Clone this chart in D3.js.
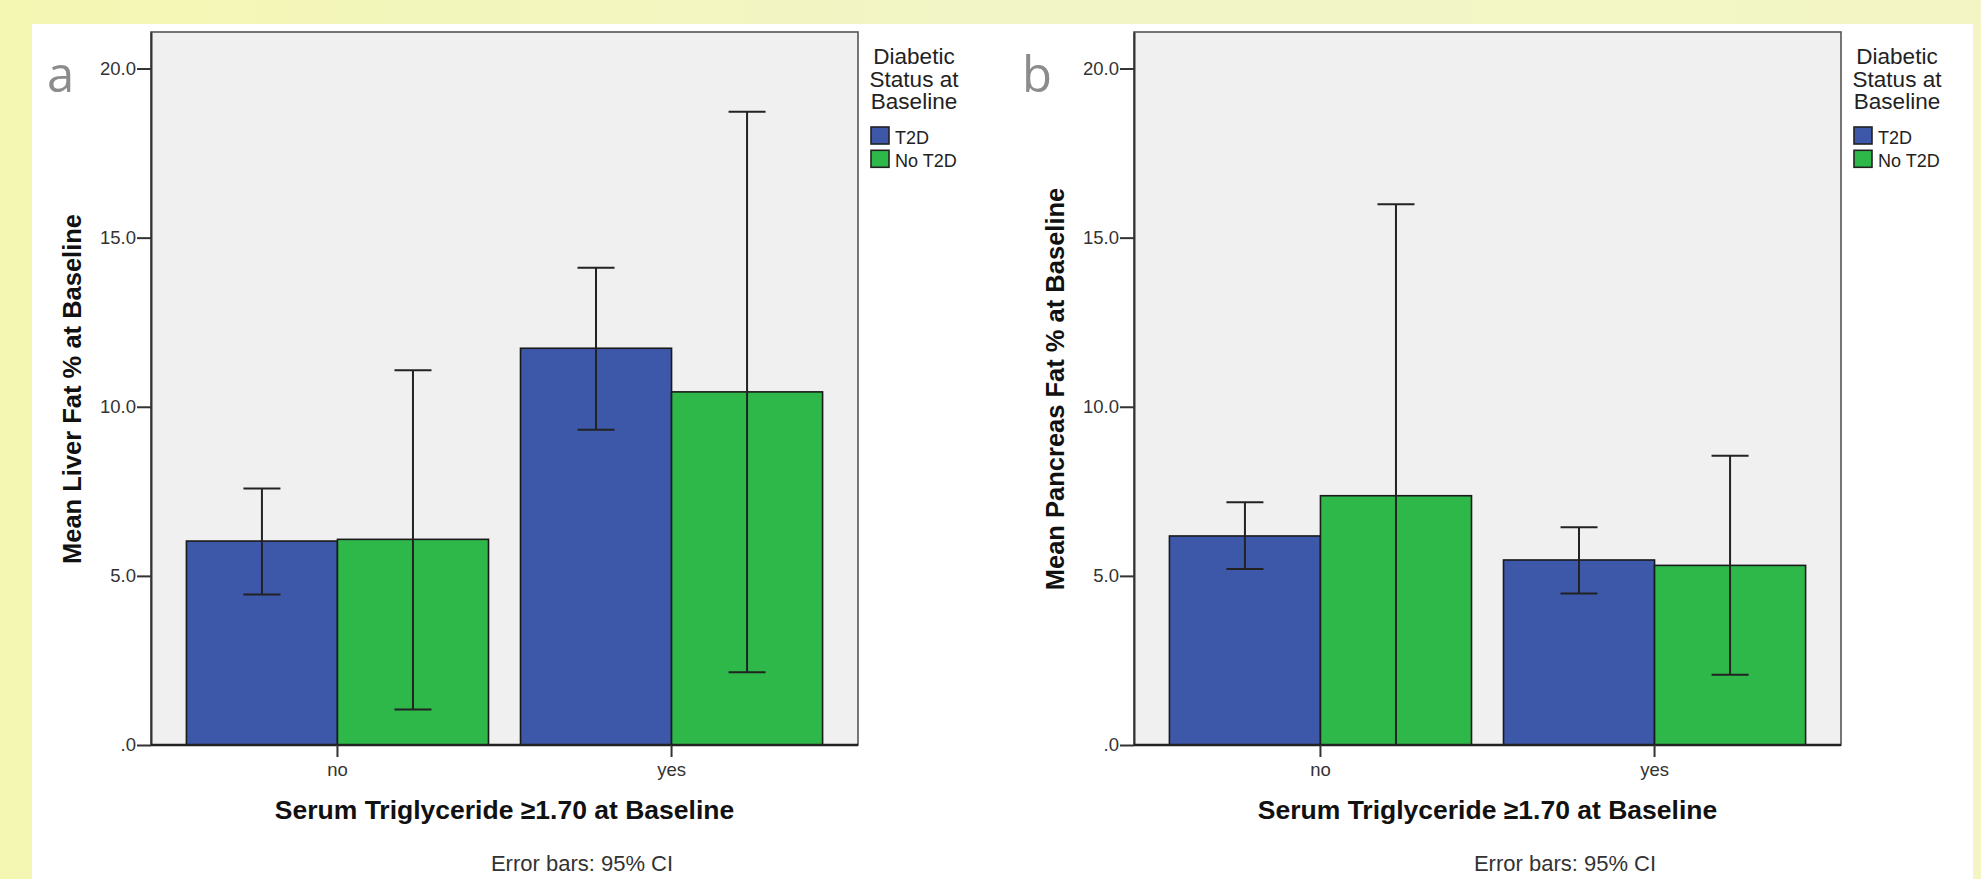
<!DOCTYPE html>
<html>
<head>
<meta charset="utf-8">
<script src="https://cdn.jsdelivr.net/npm/d3@7"></script>
<style>
  html, body { margin: 0; padding: 0; }
  body { width: 1981px; height: 879px; overflow: hidden; }
  svg text { font-family: "Liberation Sans", Arial, sans-serif; }
</style>
</head>
<body>
<svg id="chart" width="1981" height="879"></svg>
<script>
// ---------- DATA ----------
const categories = ["no", "yes"];
const groups = ["T2D", "No T2D"];
const groupColors = ["#3d57a9", "#2fb84a"];
const yTicks = [0, 5, 10, 15, 20];

// Panel a: Mean Liver Fat % at Baseline
const liverT2D      = [6.03, 11.73];
const liverT2DLow   = [4.45, 9.32];
const liverT2DHigh  = [7.58, 14.11];
const liverNoT2D     = [6.08, 10.44];
const liverNoT2DLow  = [1.05, 2.15];
const liverNoT2DHigh = [11.08, 18.72];

// Panel b: Mean Pancreas Fat % at Baseline
const pancT2D      = [6.18, 5.47];
const pancT2DLow   = [5.20, 4.48];
const pancT2DHigh  = [7.18, 6.44];
const pancNoT2D     = [7.37, 5.31];
const pancNoT2DLow  = [0.00, 2.08];
const pancNoT2DHigh = [15.99, 8.55];

const panels = [
  { letter: "a", yTitle: "Mean Liver Fat % at Baseline", dx: 0,
    series: [
      { mean: liverT2D, low: liverT2DLow, high: liverT2DHigh },
      { mean: liverNoT2D, low: liverNoT2DLow, high: liverNoT2DHigh } ] },
  { letter: "b", yTitle: "Mean Pancreas Fat % at Baseline", dx: 983,
    series: [
      { mean: pancT2D, low: pancT2DLow, high: pancT2DHigh },
      { mean: pancNoT2D, low: pancNoT2DLow, high: pancNoT2DHigh } ] }
];

// ---------- DRAW ----------
const svg = d3.select("#chart");

// background
const defs = svg.append("defs");
const grad = defs.append("linearGradient").attr("id", "bg").attr("x1", 0).attr("y1", 0).attr("x2", 1).attr("y2", 0);
grad.append("stop").attr("offset", "0%").attr("stop-color", "#f4f7b2");
grad.append("stop").attr("offset", "50%").attr("stop-color", "#f2f5c6");
grad.append("stop").attr("offset", "100%").attr("stop-color", "#f3f6c4");
svg.append("rect").attr("width", 1981).attr("height", 879).attr("fill", "url(#bg)");
svg.append("rect").attr("x", 32).attr("y", 24).attr("width", 1941).attr("height", 855).attr("fill", "#ffffff");

const plotLeft = 151, plotRight = 858, plotTop = 32, plotBottom = 745;
const y = d3.scaleLinear().domain([0, 21.08]).range([plotBottom, plotTop]);
const fmt = d => d === 0 ? ".0" : d3.format(".1f")(d);

panels.forEach(p => {
  const g = svg.append("g").attr("transform", `translate(${p.dx},0)`);

  const x0 = d3.scaleBand().domain(categories).range([plotLeft, plotRight])
    .paddingInner(0.0958).paddingOuter(0.106);
  const x1 = d3.scaleBand().domain(groups).range([0, x0.bandwidth()]).padding(0);

  // plot background & frame
  g.append("rect").attr("x", plotLeft).attr("y", plotTop)
    .attr("width", plotRight - plotLeft).attr("height", plotBottom - plotTop)
    .attr("fill", "#f0f0f0").attr("stroke", "#555").attr("stroke-width", 1.6);

  // bars
  p.series.forEach((s, si) => {
    g.append("g").selectAll("rect").data(categories).join("rect")
      .attr("x", (c) => x0(c) + x1(groups[si]))
      .attr("y", (c, i) => y(s.mean[i]))
      .attr("width", x1.bandwidth())
      .attr("height", (c, i) => y(0) - y(s.mean[i]))
      .attr("fill", groupColors[si])
      .attr("stroke", "#1a1a1a").attr("stroke-width", 1.6);
  });

  // error bars
  const capHalf = 18.5;
  p.series.forEach((s, si) => {
    const eg = g.append("g").attr("stroke", "#222").attr("stroke-width", 2).attr("fill", "none");
    categories.forEach((c, i) => {
      const cx = x0(c) + x1(groups[si]) + x1.bandwidth() / 2;
      eg.append("line").attr("x1", cx).attr("x2", cx).attr("y1", y(s.low[i])).attr("y2", y(s.high[i]));
      eg.append("line").attr("x1", cx - capHalf).attr("x2", cx + capHalf).attr("y1", y(s.high[i])).attr("y2", y(s.high[i]));
      eg.append("line").attr("x1", cx - capHalf).attr("x2", cx + capHalf).attr("y1", y(s.low[i])).attr("y2", y(s.low[i]));
    });
  });

  // y axis
  const ya = g.append("g").attr("transform", `translate(${plotLeft},0)`)
    .call(d3.axisLeft(y).tickValues(yTicks).tickFormat(fmt).tickSize(14).tickSizeOuter(0).tickPadding(1));
  ya.select(".domain").attr("stroke", "#333").attr("stroke-width", 2);
  ya.selectAll(".tick line").attr("stroke", "#333").attr("stroke-width", 2);
  ya.selectAll(".tick text").attr("fill", "#333").style("font-size", "18.5px")
    .style("font-family", "'Liberation Sans', Arial, sans-serif");

  // x axis
  const xa = g.append("g").attr("transform", `translate(0,${plotBottom})`)
    .call(d3.axisBottom(x0).tickSize(12).tickSizeOuter(0).tickPadding(6));
  xa.select(".domain").attr("stroke", "#222").attr("stroke-width", 2.4)
    .attr("d", `M${plotLeft},0H${plotRight}`);
  xa.selectAll(".tick line").attr("stroke", "#333").attr("stroke-width", 2);
  xa.selectAll(".tick text").attr("fill", "#333").style("font-size", "18.5px")
    .style("font-family", "'Liberation Sans', Arial, sans-serif");

  // axis titles
  g.append("text").attr("transform", "translate(81,389) rotate(-90)")
    .attr("text-anchor", "middle").style("font-size", "25.5px").style("font-weight", "bold")
    .attr("fill", "#111").text(p.yTitle);
  g.append("text").attr("x", (plotLeft + plotRight) / 2).attr("y", 819)
    .attr("text-anchor", "middle").style("font-size", "26.5px").style("font-weight", "bold")
    .attr("fill", "#111").text("Serum Triglyceride \u22651.70 at Baseline");
  g.append("text").attr("x", 582).attr("y", 871)
    .attr("text-anchor", "middle").style("font-size", "22px")
    .attr("fill", "#333").text("Error bars: 95% CI");

  // panel letter
  g.append("text").attr("x", p.letter === "a" ? 47 : 39).attr("y", 92)
    .style("font-family", "'Open Sans', sans-serif").style("font-size", "49px")
    .attr("fill", "#8c8c8c").text(p.letter);

  // legend
  const lg = g.append("g");
  ["Diabetic", "Status at", "Baseline"].forEach((t, i) => {
    lg.append("text").attr("x", 914).attr("y", 64 + i * 22.5).attr("text-anchor", "middle")
      .style("font-size", "22.5px").attr("fill", "#222").text(t);
  });
  groups.forEach((gr, i) => {
    lg.append("rect").attr("x", 871).attr("y", 127 + i * 23.3).attr("width", 18).attr("height", 17)
      .attr("fill", groupColors[i]).attr("stroke", "#222").attr("stroke-width", 1.6);
    lg.append("text").attr("x", 895).attr("y", 144 + i * 23).style("font-size", "18px")
      .attr("fill", "#222").text(gr);
  });
});
</script>
</body>
</html>
